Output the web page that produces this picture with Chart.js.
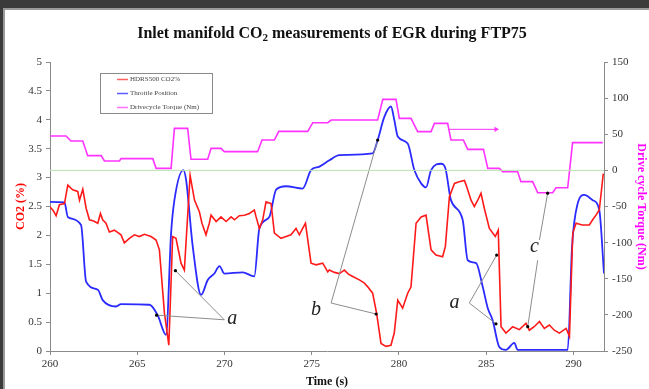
<!DOCTYPE html>
<html>
<head>
<meta charset="utf-8">
<script src="https://cdn.jsdelivr.net/npm/chart.js@4/dist/chart.umd.min.js"></script>
<style>
  html, body { margin: 0; padding: 0; }
  body { width: 649px; height: 389px; background: #3b3b3b; position: relative; overflow: hidden; }
  .frame { position: absolute; left: 3px; top: 8px; right: 0; bottom: 0; background: #fff;
           border-left: 2px solid #9a9a9a; border-top: 2px solid #9a9a9a; }
  .holder { position: absolute; left: 0; top: 0; width: 649px; height: 389px; }
</style>
</head>
<body>
<div class="frame"></div>
<div class="holder"><canvas id="myChart"></canvas></div>
<script>
// //*************************data */

var co2Time = [259.97, 260.16, 260.35, 260.54, 260.83, 261.02, 261.3, 261.59, 261.69, 261.88, 262.07, 262.26, 262.5, 262.74, 262.89, 263.02, 263.21, 263.4, 263.69, 264.07, 264.26, 264.55, 264.84, 265.12, 265.41, 265.79, 266.08, 266.27, 266.56, 266.81, 267.03, 267.22, 267.51, 267.7, 268.03, 268.28, 268.56, 268.71, 268.94, 269.13, 269.23, 269.52, 269.8, 270.09, 270.38, 270.57, 270.85, 271.14, 271.43, 271.71, 271.81, 272.0, 272.19, 272.38, 272.67, 272.86, 273.24, 273.53, 273.81, 274.1, 274.29, 274.48, 274.64, 274.96, 275.25, 275.63, 275.92, 276.01, 276.3, 276.58, 276.87, 277.1, 277.35, 277.73, 278.0, 278.21, 278.49, 278.72, 278.97, 279.25, 279.54, 279.73, 279.93, 280.21, 280.5, 280.69, 280.98, 281.27, 281.55, 281.84, 282.12, 282.5, 282.66, 282.89, 283.18, 283.45, 283.75, 283.85, 284.13, 284.32, 284.5, 284.7, 284.89, 285.18, 285.52, 285.69, 285.85, 286.13, 286.52, 286.9, 287.28, 287.47, 287.75, 288.05, 288.33, 288.62, 288.9, 289.19, 289.58, 289.77, 289.96, 290.15, 290.5, 290.91, 291.1, 291.29, 291.48, 291.71];
var co2Pct = [2.50, 2.44, 2.34, 2.53, 2.55, 2.87, 2.79, 2.76, 2.61, 2.80, 2.47, 2.27, 2.25, 2.21, 2.38, 2.27, 2.21, 2.06, 2.09, 2.01, 1.87, 1.95, 2.01, 1.98, 2.02, 1.98, 1.92, 1.75, 0.65, 0.10, 1.98, 1.95, 1.52, 1.40, 3.04, 2.61, 2.41, 2.21, 2.01, 2.21, 2.35, 2.24, 2.32, 2.24, 2.32, 2.27, 2.34, 2.35, 2.38, 2.44, 2.32, 2.12, 2.27, 2.58, 2.55, 2.04, 1.95, 1.98, 2.01, 2.12, 2.01, 2.12, 2.21, 1.52, 1.49, 1.52, 1.37, 1.40, 1.36, 1.34, 1.40, 1.33, 1.29, 1.23, 1.18, 1.11, 1.00, 0.65, 0.13, 0.08, 0.10, 0.31, 0.88, 0.74, 1.00, 1.11, 2.21, 2.32, 2.35, 1.75, 1.66, 1.63, 1.81, 2.67, 2.90, 2.93, 2.95, 2.87, 2.61, 2.50, 2.60, 2.73, 2.47, 2.12, 1.98, 2.09, 0.42, 0.31, 0.42, 0.37, 0.48, 0.36, 0.42, 0.51, 0.39, 0.45, 0.36, 0.31, 0.39, 0.25, 2.04, 2.21, 2.18, 2.18, 2.27, 2.35, 2.44, 3.07];

var throttleTime = [259.97, 260.83, 261.02, 261.78, 262.07, 262.74, 263.02, 263.79, 264.07, 265.70, 266.17, 266.65, 266.94, 267.13, 267.64, 267.8, 268.18, 268.66, 269.04, 269.42, 269.71, 270.0, 271.04, 271.71, 272.0, 272.57, 272.96, 273.53, 274.48, 274.96, 275.44, 276.01, 276.58, 278.49, 278.78, 279.16, 279.54, 279.73, 279.93, 280.5, 280.88, 281.27, 281.55, 281.84, 282.41, 282.66, 282.98, 283.65, 283.94, 284.42, 284.8, 285.09, 285.37, 285.75, 286.13, 286.61, 286.8, 289.67, 289.92, 290.24, 290.62, 291.1, 291.48, 291.75];
var throttlePos = [2.58, 2.57, 2.32, 2.18, 1.20, 1.06, 0.88, 0.77, 0.81, 0.80, 0.62, 0.28, 2.04, 2.61, 3.13, 2.96, 1.81, 0.97, 1.23, 1.34, 1.47, 1.34, 1.36, 1.29, 2.12, 2.32, 2.79, 2.85, 2.81, 3.13, 3.19, 3.30, 3.39, 3.42, 3.65, 4.05, 4.23, 4.00, 3.71, 3.59, 3.13, 2.90, 2.83, 3.13, 3.24, 3.16, 2.61, 2.27, 1.57, 1.52, 1.11, 0.74, 0.53, 0.07, 0.02, 0.14, 0.02, 0.02, 1.81, 2.55, 2.70, 2.61, 2.44, 1.34];

var torqueTime = [260, 260.92, 261.2, 261.88, 262.16, 262.93, 263.12, 263.98, 264.07, 265.89, 266.08, 266.94, 267.13, 267.89, 268.08, 269.04, 269.23, 269.8, 269.99, 271.9, 272.15, 272.86, 273.11, 274.77, 275.06, 275.92, 276.11, 278.78, 279.07, 279.83, 280.02, 280.69, 281.07, 281.84, 282.03, 282.79, 282.98, 283.69, 283.94, 284.84, 285.09, 285.75, 285.94, 286.8, 286.99, 287.66, 287.95, 288.81, 289.0, 289.67, 289.95, 291.68];
var torqueNm = [47.6, 47.6, 40.7, 40.7, 20.4, 20.4, 13, 13, 16.2, 16.2, 2.8, 2.8, 58.2, 58.2, 15.3, 15.3, 30.5, 30.5, 25.9, 25.9, 42, 42, 54, 54, 66, 66, 69.7, 69.7, 98.3, 98.3, 72, 72, 53.6, 53.6, 65.1, 65.1, 42, 42, 29.1, 29.1, 2.8, 2.8, -1.8, -1.8, -15.6, -15.6, -30.9, -30.9, -24, -24, 38.4, 38.4];

// magenta pointer arrow (torque axis) and the zero torque line
var torqueArrowTime = [282.89, 285.56], torqueArrowNm = [56.8, 56.8];
var zeroLineTime = [260, 291.75], zeroLineNm = [0, 0];

// tick values
var timeTicks = [260, 265, 270, 275, 280, 285, 290];

// grey pointer lines: [start time, start CO2, end time, end CO2]
var pointerLines = [
  [269.99, 0.54, 266.11, 0.62],
  [269.99, 0.54, 267.19, 1.39],
  [276.11, 0.83, 278.78, 3.65],
  [276.11, 0.83, 278.69, 0.64],
  [284.03, 0.83, 285.60, 1.66],
  [284.03, 0.83, 285.56, 0.47],
  [287.95, 1.57, 287.38, 0.42],
  [288.05, 1.92, 288.52, 2.73]
];
var noteText = ['a', 'b', 'a', 'c'];
var noteTime = [270.45, 275.25, 283.18, 287.76];
var noteCo2 = [0.56, 0.71, 0.83, 1.80];

var legendNames = ['HDRS500 CO2%', 'Throttle Position', 'Drivecycle Torque (Nm)'];

// //*************************helpers */

function toPoints(xs, ys) {
  var pts = [];
  for (var i = 0; i < xs.length; i++) {
    pts.push({ x: xs[i], y: ys[i] });
  }
  return pts;
}

var serif = "'Liberation Serif', 'Times New Roman', serif";

// title, legend box and the a/b/c notes
var extras = {
  id: 'extras',
  afterDraw: function(chart) {
    var ctx = chart.ctx;
    ctx.save();

    // title with subscript 2
    var part1 = 'Inlet manifold CO', part2 = ' measurements of EGR during FTP75';
    ctx.fillStyle = '#111';
    ctx.textBaseline = 'alphabetic';
    ctx.font = 'bold 16px ' + serif;
    var w1 = ctx.measureText(part1).width, w3 = ctx.measureText(part2).width;
    ctx.font = 'bold 11px ' + serif;
    var w2 = ctx.measureText('2').width;
    var x0 = 332 - (w1 + w2 + w3) / 2;
    ctx.font = 'bold 16px ' + serif;
    ctx.textAlign = 'left';
    ctx.fillText(part1, x0, 38);
    ctx.font = 'bold 11px ' + serif;
    ctx.fillText('2', x0 + w1, 41);
    ctx.font = 'bold 16px ' + serif;
    ctx.fillText(part2, x0 + w1 + w2, 38);

    // legend box
    ctx.strokeStyle = '#8a8a8a';
    ctx.lineWidth = 1;
    ctx.strokeRect(100.5, 73.5, 112, 40);
    var cols = ['#ff6060', '#5a5aff', '#ff70ff'];
    ctx.font = '7px ' + serif;
    ctx.textBaseline = 'middle';
    for (var i = 0; i < legendNames.length; i++) {
      var ly = 79.5 + i * 14;
      ctx.strokeStyle = cols[i];
      ctx.lineWidth = 1.5;
      ctx.beginPath();
      ctx.moveTo(117, ly);
      ctx.lineTo(128, ly);
      ctx.stroke();
      ctx.fillStyle = '#444';
      ctx.fillText(legendNames[i], 130, ly);
    }

    // a / b / c notes
    var xs = chart.scales.x, ys = chart.scales.y;
    ctx.font = 'italic 20px ' + serif;
    ctx.fillStyle = '#222';
    ctx.textAlign = 'center';
    ctx.textBaseline = 'middle';
    for (var j = 0; j < noteText.length; j++) {
      ctx.fillText(noteText[j], xs.getPixelForValue(noteTime[j]), ys.getPixelForValue(noteCo2[j]));
    }
    ctx.restore();
  }
};

// //*************************chart */

function makeChart() {
  var datasets = [];

  datasets.push({
    label: 'zero',
    data: toPoints(zeroLineTime, zeroLineNm),
    yAxisID: 'y2',
    borderColor: '#b9e3b0',
    borderWidth: 1,
    pointRadius: 0
  });

  for (var i = 0; i < pointerLines.length; i++) {
    var p = pointerLines[i];
    datasets.push({
      label: 'pointer' + i,
      data: [{ x: p[0], y: p[1] }, { x: p[2], y: p[3] }],
      yAxisID: 'y',
      borderColor: '#8c8c8c',
      borderWidth: 1,
      pointRadius: [0, 1.6],
      pointBackgroundColor: '#000',
      pointBorderWidth: 0
    });
  }

  datasets.push({
    label: 'HDRS500 CO2%',
    data: toPoints(co2Time, co2Pct),
    yAxisID: 'y',
    borderColor: '#ff1a1a',
    borderWidth: 1.6,
    pointRadius: 0
  });
  datasets.push({
    label: 'Throttle Position',
    data: toPoints(throttleTime, throttlePos),
    yAxisID: 'y',
    borderColor: '#2b2bff',
    borderWidth: 1.8,
    pointRadius: 0,
    cubicInterpolationMode: 'monotone'
  });
  datasets.push({
    label: 'Drivecycle Torque (Nm)',
    data: toPoints(torqueTime, torqueNm),
    yAxisID: 'y2',
    borderColor: '#ff33ff',
    borderWidth: 1.6,
    pointRadius: 0
  });
  datasets.push({
    label: 'torque arrow',
    data: toPoints(torqueArrowTime, torqueArrowNm),
    yAxisID: 'y2',
    borderColor: '#ff33ff',
    borderWidth: 1,
    pointRadius: [0, 3],
    pointStyle: 'triangle',
    rotation: 90,
    pointBackgroundColor: '#ff33ff',
    pointBorderWidth: 0
  });

  var tickFont = { family: serif, size: 11 };
  var axisGrid = { display: true, drawOnChartArea: false, tickLength: 4, color: '#8a8a8a' };
  var axisBorder = { display: true, color: '#8a8a8a', width: 1 };

  var ctx = document.getElementById('myChart').getContext('2d');
  var chart = new Chart(ctx, {
    type: 'line',
    data: { datasets: datasets },
    plugins: [extras],
    options: {
      responsive: true,
      maintainAspectRatio: false,
      animation: false,
      layout: { padding: { top: 62, left: 0, right: 0, bottom: 0 } },
      plugins: {
        legend: { display: false },
        tooltip: { enabled: false },
        title: { display: false }
      },
      scales: {
        x: {
          type: 'linear',
          min: 260,
          max: 291.75,
          grid: axisGrid,
          border: axisBorder,
          afterBuildTicks: function(s) {
            s.ticks = timeTicks.map(function(v) { return { value: v }; });
          },
          afterFit: function(s) { s.height = 38; },
          ticks: { color: '#333', font: tickFont, padding: 3, maxRotation: 0, autoSkip: false },
          title: {
            display: true, text: 'Time (s)', color: '#111',
            font: { family: serif, size: 12, weight: 'bold' },
            padding: { top: 0, bottom: 0 }
          }
        },
        y: {
          position: 'left',
          min: 0,
          max: 5,
          grid: axisGrid,
          border: axisBorder,
          afterFit: function(s) { s.width = 50; },
          ticks: {
            stepSize: 0.5, color: '#333', font: tickFont, padding: 4,
            callback: function(v) { return String(v); }
          },
          title: {
            display: true, text: 'CO2 (%)', color: '#ff0000',
            font: { family: serif, size: 12, weight: 'bold' },
            padding: { top: 14, bottom: 0 }
          }
        },
        y2: {
          position: 'right',
          min: -250,
          max: 150,
          grid: axisGrid,
          border: axisBorder,
          afterFit: function(s) { s.width = 45; },
          ticks: { stepSize: 50, color: '#333', font: tickFont, padding: 4 },
          title: {
            display: true, text: 'Drive cycle Torque (Nm)', color: '#ff00ff',
            font: { family: serif, size: 12, weight: 'bold' },
            padding: { top: 1, bottom: 0 }
          }
        }
      }
    }
  });
  return chart;
}

makeChart();
</script>
</body>
</html>
